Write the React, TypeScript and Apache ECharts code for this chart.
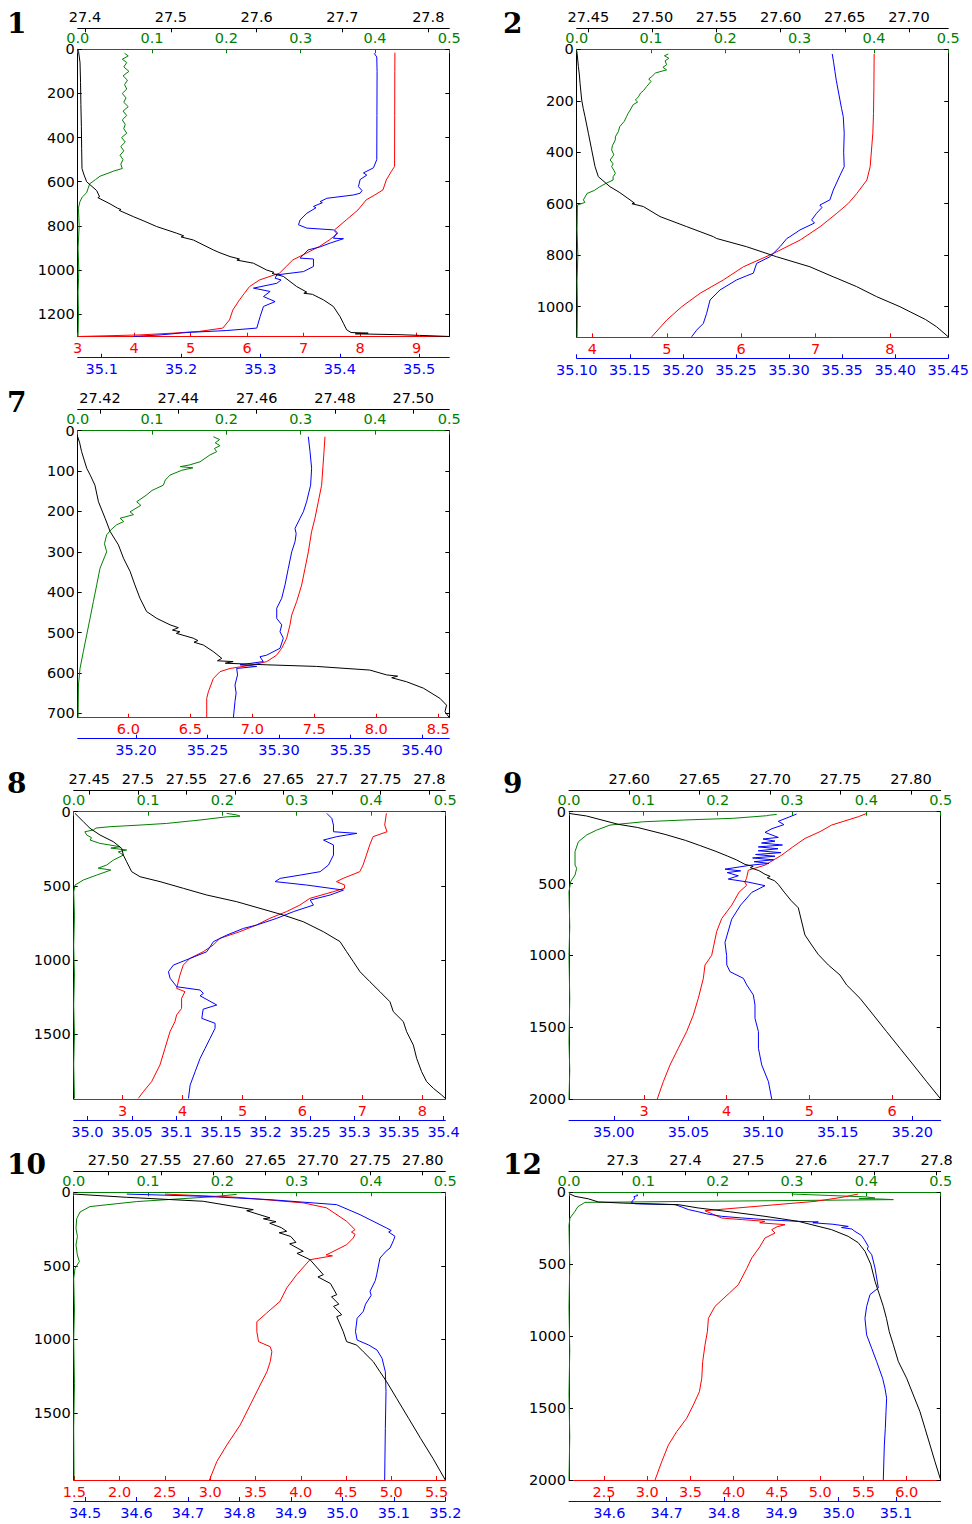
import { useEffect, useRef } from "react";
import * as echarts from "echarts";

type P = [number, number][];

// ---------------- Panel 1 ----------------
const p1Sigma: P = [[27.3915,0],[27.3925,10],[27.3942,60],[27.3948,150],[27.3952,250],[27.3958,350],[27.3961,450],[27.3965,540],[27.3985,565],[27.4019,600],[27.4136,640],[27.4170,668],[27.4150,672],[27.4291,700],[27.4380,720],[27.4420,726],[27.4400,730],[27.4563,758],[27.4700,780],[27.4835,803],[27.5068,833],[27.5150,845],[27.5120,850],[27.5263,864],[27.5496,909],[27.5560,920],[27.5690,939],[27.5800,950],[27.5770,955],[27.5962,969],[27.6117,1000],[27.6200,1010],[27.6180,1015],[27.6312,1029],[27.6467,1075],[27.6584,1100],[27.6550,1105],[27.6650,1110],[27.6778,1135],[27.6894,1165],[27.6972,1211],[27.7011,1241],[27.7050,1271],[27.7100,1283],[27.7300,1286],[27.7150,1289],[27.7671,1293],[27.7900,1296],[27.8246,1301]];
const p1Chl: P = [[0.063,18],[0.068,30],[0.060,45],[0.066,60],[0.062,80],[0.069,100],[0.061,120],[0.067,140],[0.063,160],[0.066,180],[0.060,200],[0.065,220],[0.062,240],[0.068,260],[0.061,280],[0.066,300],[0.060,320],[0.064,340],[0.062,360],[0.066,380],[0.059,400],[0.064,420],[0.058,440],[0.062,460],[0.057,480],[0.061,500],[0.058,520],[0.060,540],[0.048,552],[0.042,560],[0.030,575],[0.024,590],[0.016,610],[0.014,630],[0.012,650],[0.006,670],[0.003,690],[0.001,720],[0.002,800],[0.0005,900],[0.0015,1000],[0.0005,1100],[0.001,1200],[0.0005,1301]];
const p1Temp: P = [[8.617,15],[8.615,100],[8.613,300],[8.611,531],[8.552,554],[8.464,592],[8.405,637],[8.260,660],[8.109,682],[7.962,728],[7.755,773],[7.548,818],[7.607,833],[7.46,863],[7.282,893],[7.046,924],[6.81,954],[6.692,984],[6.574,1014],[6.219,1045],[6.042,1075],[5.953,1105],[5.865,1135],[5.747,1181],[5.688,1226],[5.569,1263],[5.156,1278],[4.683,1286],[4.093,1294],[3.03,1301]];
const p1Sal: P = [[35.4433,18],[35.4466,35],[35.4470,100],[35.4468,300],[35.4466,500],[35.4424,537],[35.4298,560],[35.4340,570],[35.4256,590],[35.4235,622],[35.4280,640],[35.4256,652],[35.4172,660],[35.3836,675],[35.3752,690],[35.3780,695],[35.3668,712],[35.3700,718],[35.3584,743],[35.3500,773],[35.3479,795],[35.3584,810],[35.3920,818],[35.3962,833],[35.3920,856],[35.4046,858],[35.3878,878],[35.3752,895],[35.3600,909],[35.3500,946],[35.3668,950],[35.3668,984],[35.3542,1007],[35.3206,1022],[35.3185,1037],[35.3260,1045],[35.3206,1060],[35.2912,1082],[35.3122,1097],[35.3038,1120],[35.3185,1143],[35.3038,1165],[35.2996,1211],[35.2954,1263],[35.2576,1274],[35.2071,1283],[35.1735,1294],[35.1400,1301]];
const p1SigmaTicks = [27.4, 27.5, 27.6, 27.7, 27.8];
const p1TempTicks = [3, 4, 5, 6, 7, 8, 9];
const p1SalTicks = [35.1, 35.2, 35.3, 35.4, 35.5];
const p1DepthTicks = [0, 200, 400, 600, 800, 1000, 1200];

// ---------------- Panel 2 ----------------
const p2Sigma: P = [[27.4409,5],[27.4415,30],[27.4422,67],[27.4430,100],[27.4435,132],[27.4448,197],[27.4460,230],[27.4474,262],[27.4500,326],[27.4526,391],[27.4552,456],[27.4578,495],[27.4669,534],[27.4740,555],[27.4825,585],[27.4860,598],[27.4840,600],[27.4929,611],[27.5059,650],[27.5267,689],[27.5475,728],[27.5500,735],[27.5734,767],[27.5968,806],[27.6228,845],[27.6410,884],[27.6440,890],[27.6592,922],[27.6748,961],[27.6930,1000],[27.7010,1020],[27.7086,1039],[27.7130,1050],[27.7216,1078],[27.7307,1117]];
const p2Chl: P = [[0.1233,18],[0.118,25],[0.124,35],[0.119,45],[0.121,60],[0.116,70],[0.121,80],[0.112,87],[0.106,92],[0.101,106],[0.097,115],[0.100,125],[0.094,145],[0.090,160],[0.086,170],[0.083,185],[0.079,197],[0.082,205],[0.076,215],[0.072,236],[0.069,250],[0.067,262],[0.064,280],[0.058,300],[0.056,320],[0.052,340],[0.052,352],[0.048,375],[0.047,391],[0.050,410],[0.045,430],[0.049,445],[0.047,456],[0.050,470],[0.052,482],[0.049,495],[0.049,508],[0.040,520],[0.031,534],[0.024,548],[0.014,560],[0.009,585],[0.011,595],[0.001,605],[0.0005,700],[0.0015,800],[0.0005,900],[0.001,1000],[0.0005,1117]];
const p2Temp: P = [[7.789,18],[7.785,150],[7.78,250],[7.771,326],[7.735,456],[7.691,508],[7.556,560],[7.444,598],[7.287,637],[7.063,689],[6.794,741],[6.435,793],[6.031,845],[5.762,896],[5.448,948],[5.202,1000],[5.0,1052],[4.798,1117]];
const p2Sal: P = [[35.3407,18],[35.342,50],[35.3433,87],[35.3445,120],[35.348,197],[35.3495,230],[35.3511,262],[35.352,326],[35.3515,400],[35.352,456],[35.348,490],[35.3417,547],[35.3385,585],[35.3291,605],[35.331,615],[35.326,637],[35.3213,663],[35.3240,675],[35.3103,702],[35.3009,728],[35.2980,735],[35.2915,767],[35.282,806],[35.2695,832],[35.2664,870],[35.2600,880],[35.2507,896],[35.235,935],[35.2256,974],[35.2224,1026],[35.2193,1065],[35.213,1091],[35.2083,1117]];
const p2SigmaTicks = [27.45, 27.5, 27.55, 27.6, 27.65, 27.7];
const p2TempTicks = [4, 5, 6, 7, 8];
const p2SalTicks = [35.1, 35.15, 35.2, 35.25, 35.3, 35.35, 35.4, 35.45];
const p2DepthTicks = [0, 200, 400, 600, 800, 1000];

// ---------------- Panel 7 ----------------
const p7Sigma: P = [[27.4143,15],[27.4148,30],[27.4153,52],[27.4166,93],[27.4175,110],[27.4187,135],[27.4196,176],[27.4213,217],[27.4226,250],[27.4247,283],[27.4260,316],[27.4277,349],[27.4289,382],[27.4302,415],[27.4319,448],[27.4345,465],[27.4379,481],[27.4400,488],[27.4385,494],[27.4404,498],[27.4395,502],[27.4438,514],[27.4450,520],[27.4440,524],[27.4464,531],[27.4489,547],[27.4511,564],[27.4500,570],[27.4540,572],[27.4520,576],[27.4626,580],[27.4753,584],[27.4889,593],[27.4932,605],[27.4960,608],[27.4945,612],[27.4983,622],[27.5026,638],[27.5068,663],[27.5085,680],[27.5081,696],[27.5092,711]];
const p7Chl: P = [[0.1825,15],[0.191,22],[0.185,30],[0.1915,37],[0.184,44],[0.187,52],[0.178,60],[0.1646,77],[0.150,85],[0.138,89],[0.155,92],[0.140,98],[0.1242,110],[0.118,122],[0.1152,135],[0.100,148],[0.0928,159],[0.0794,176],[0.085,185],[0.0704,201],[0.075,208],[0.057,217],[0.062,225],[0.0525,233],[0.045,245],[0.039,258],[0.036,280],[0.039,300],[0.030,341],[0.0256,382],[0.0211,423],[0.0166,465],[0.0121,506],[0.0076,547],[0.0031,589],[0.001,630],[0.0005,711]];
const p7Temp: P = [[7.586,15],[7.578,52],[7.559,135],[7.532,176],[7.505,217],[7.478,250],[7.452,300],[7.425,341],[7.398,382],[7.358,423],[7.317,457],[7.304,481],[7.277,514],[7.237,539],[7.196,556],[7.116,572],[7.008,580],[6.82,589],[6.739,597],[6.685,614],[6.645,647],[6.632,663],[6.632,711]];
const p7Sal: P = [[35.3205,15],[35.3217,52],[35.3228,93],[35.3221,135],[35.3193,176],[35.317,201],[35.3147,217],[35.3112,242],[35.312,255],[35.3112,275],[35.3089,300],[35.3065,341],[35.3042,382],[35.3019,415],[35.2984,440],[35.2984,465],[35.3019,481],[35.3007,498],[35.303,514],[35.3007,539],[35.2914,556],[35.2867,560],[35.2890,572],[35.2727,580],[35.2844,584],[35.2704,589],[35.2710,605],[35.2692,630],[35.2700,650],[35.2692,671],[35.2681,711]];
const p7SigmaTicks = [27.42, 27.44, 27.46, 27.48, 27.5];
const p7TempTicks = [6.0, 6.5, 7.0, 7.5, 8.0, 8.5];
const p7SalTicks = [35.2, 35.25, 35.3, 35.35, 35.4];
const p7DepthTicks = [0, 100, 200, 300, 400, 500, 600, 700];

// ---------------- Panel 8 ----------------
const p8Sigma: P = [[27.4352,11],[27.4438,67],[27.4507,112],[27.4610,157],[27.4747,202],[27.4833,247],[27.4850,292],[27.4884,337],[27.4936,404],[27.5022,438],[27.5228,471],[27.5468,516],[27.5708,561],[27.6017,606],[27.6257,651],[27.6497,696],[27.6703,741],[27.6909,808],[27.7081,875],[27.7149,943],[27.7218,1010],[27.7287,1078],[27.7389,1145],[27.7492,1212],[27.7595,1280],[27.7630,1347],[27.7733,1414],[27.7767,1482],[27.7836,1572],[27.7870,1661],[27.7921,1751],[27.7973,1818],[27.8042,1863],[27.8127,1908],[27.8165,1931]];
const p8Chl: P = [[0.2058,11],[0.2193,22],[0.2238,30],[0.205,35],[0.17,56],[0.125,79],[0.0892,90],[0.0489,101],[0.030,110],[0.0265,123],[0.015,135],[0.0175,157],[0.024,175],[0.022,191],[0.035,213],[0.0623,236],[0.050,245],[0.0713,258],[0.060,270],[0.0668,292],[0.0534,326],[0.0444,359],[0.0330,380],[0.0500,393],[0.0309,427],[0.0130,460],[0.0018,494],[0.0,539],[0.001,700],[0.0,900],[0.001,1100],[0.0,1300],[0.001,1500],[0.0,1700],[0.001,1931]];
const p8Temp: P = [[7.4,11],[7.372,90],[7.411,135],[7.178,168],[7.122,224],[7.067,292],[7.011,359],[6.956,404],[6.678,449],[6.567,471],[6.706,494],[6.700,516],[6.511,539],[6.122,584],[5.956,629],[5.733,673],[5.456,718],[5.233,763],[4.956,808],[4.622,853],[4.511,898],[4.344,943],[4.122,988],[4.011,1033],[3.956,1100],[3.9,1190],[4.039,1212],[3.983,1257],[3.983,1325],[3.9,1369],[3.872,1414],[3.789,1482],[3.706,1594],[3.622,1706],[3.483,1818],[3.344,1886],[3.261,1931]];
const p8Sal: P = [[35.2689,11],[35.2745,45],[35.2764,90],[35.2764,135],[35.3026,146],[35.2801,168],[35.2652,191],[35.2764,224],[35.2764,292],[35.2708,359],[35.2614,404],[35.2390,427],[35.2165,449],[35.2109,471],[35.2464,494],[35.2876,528],[35.2727,561],[35.2502,595],[35.2539,629],[35.2315,673],[35.2127,718],[35.1903,763],[35.1753,786],[35.1566,831],[35.1416,875],[35.1341,943],[35.1154,988],[35.0966,1033],[35.0910,1078],[35.0929,1122],[35.1004,1179],[35.1266,1201],[35.1303,1224],[35.1266,1240],[35.1453,1302],[35.1300,1330],[35.1285,1392],[35.1434,1425],[35.1434,1459],[35.1378,1526],[35.1322,1594],[35.1266,1661],[35.1210,1751],[35.1154,1841],[35.1135,1931]];
const p8SigmaTicks = [27.45, 27.5, 27.55, 27.6, 27.65, 27.7, 27.75, 27.8];
const p8TempTicks = [3, 4, 5, 6, 7, 8];
const p8SalTicks = [35.0, 35.05, 35.1, 35.15, 35.2, 35.25, 35.3, 35.35, 35.4];
const p8DepthTicks = [0, 500, 1000, 1500];

// ---------------- Panel 9 ----------------
const p9Sigma: P = [[27.5572,12],[27.5697,30],[27.5922,88],[27.6060,110],[27.6254,158],[27.6400,200],[27.6500,235],[27.6609,274],[27.6700,310],[27.6760,335],[27.6822,367],[27.6880,380],[27.6860,390],[27.6920,410],[27.6964,436],[27.7000,450],[27.6980,460],[27.7030,480],[27.7058,506],[27.7100,560],[27.7150,620],[27.7200,669],[27.7247,858],[27.7295,928],[27.7342,994],[27.7413,1067],[27.7496,1137],[27.7543,1206],[27.7638,1299],[27.7733,1415],[27.7827,1531],[27.7922,1647],[27.8017,1763],[27.8111,1879],[27.8211,2000]];
const p9Chl: P = [[0.2794,19],[0.27,24],[0.2659,28],[0.2211,46],[0.1538,58],[0.1,70],[0.0552,93],[0.0372,128],[0.0238,162],[0.0126,209],[0.0081,278],[0.0081,371],[0.0103,394],[0.0081,441],[0.0022,487],[0.0,557],[0.001,800],[0.0,1000],[0.001,1300],[0.0,1600],[0.001,1800],[0.0,2000]];
const p9Temp: P = [[5.694,12],[5.592,35],[5.27,93],[5.129,139],[4.948,186],[4.80,245],[4.666,302],[4.464,372],[4.262,407],[4.24,465],[4.22,490],[4.242,512],[4.15,560],[4.061,651],[3.94,744],[3.879,835],[3.819,1000],[3.738,1067],[3.718,1160],[3.657,1299],[3.597,1415],[3.516,1531],[3.415,1647],[3.315,1763],[3.234,1879],[3.161,2000]];
const p9Sal: P = [[35.1225,16],[35.1180,35],[35.1102,67],[35.1140,90],[35.1060,118],[35.1013,144],[35.1102,179],[35.1000,190],[35.1080,205],[35.0990,218],[35.1130,232],[35.0968,245],[35.1100,258],[35.0968,272],[35.1120,285],[35.0950,298],[35.1080,310],[35.0930,322],[35.1070,335],[35.0940,348],[35.1040,360],[35.0920,372],[35.0745,400],[35.0850,412],[35.0760,424],[35.0834,446],[35.0767,469],[35.0900,490],[35.1013,515],[35.0924,562],[35.0850,650],[35.0790,748],[35.0745,910],[35.0756,1002],[35.0757,1067],[35.0779,1114],[35.0868,1160],[35.0891,1206],[35.0935,1276],[35.0946,1346],[35.0946,1439],[35.0969,1531],[35.0969,1647],[35.0991,1763],[35.1036,1879],[35.1058,2000]];
const p9SigmaTicks = [27.6, 27.65, 27.7, 27.75, 27.8];
const p9TempTicks = [3, 4, 5, 6];
const p9SalTicks = [35.0, 35.05, 35.1, 35.15, 35.2];
const p9DepthTicks = [0, 500, 1000, 1500, 2000];

// ---------------- Panel 10 ----------------
const p10Sigma: P = [[27.4669,12],[27.5175,34],[27.5906,61],[27.6383,118],[27.6320,125],[27.6543,174],[27.6480,180],[27.6600,200],[27.6540,210],[27.6650,240],[27.6702,265],[27.6630,275],[27.6740,300],[27.6790,340],[27.6730,350],[27.6860,401],[27.6800,415],[27.6925,458],[27.7052,560],[27.7000,575],[27.7120,620],[27.7180,696],[27.7130,710],[27.7200,760],[27.7150,775],[27.7227,832],[27.7180,845],[27.7242,947],[27.7274,1015],[27.7370,1038],[27.7433,1083],[27.7529,1151],[27.7592,1219],[27.7656,1287],[27.7751,1400],[27.7866,1536],[27.7980,1672],[27.8098,1808],[27.8216,1955]];
const p10Chl: P = [[0.2193,14],[0.1878,30],[0.0848,63],[0.0219,97],[0.0085,134],[0.004,180],[0.0031,245],[0.005,300],[0.0031,358],[0.0049,426],[0.0076,471],[0.0018,517],[0.0,585],[0.001,800],[0.0,1000],[0.001,1300],[0.0,1600],[0.0005,1955]];
const p10Temp: P = [[2.501,12],[3.293,34],[4.028,72],[4.286,106],[4.507,197],[4.599,254],[4.56,270],[4.60,285],[4.58,311],[4.507,356],[4.323,413],[4.28,425],[4.35,432],[4.102,458],[3.955,560],[3.845,650],[3.771,741],[3.624,820],[3.515,879],[3.515,947],[3.534,1015],[3.663,1049],[3.681,1083],[3.663,1151],[3.627,1219],[3.552,1309],[3.442,1445],[3.331,1581],[3.184,1717],[3.073,1830],[2.992,1955]];
const p10Sal: P = [[34.581,12],[34.7298,27],[34.8594,50],[34.989,84],[35.0343,152],[35.0537,186],[35.0862,243],[35.0950,260],[35.0900,270],[35.1023,299],[35.0990,330],[35.0926,379],[35.0850,400],[35.0800,420],[35.0731,447],[35.0667,560],[35.0640,600],[35.0537,673],[35.0560,700],[35.0450,760],[35.0407,809],[35.0287,856],[35.0255,947],[35.0287,1004],[35.0513,1038],[35.0674,1072],[35.0771,1128],[35.0835,1219],[35.0848,1355],[35.0835,1604],[35.0822,1955]];
const p10SigmaTicks = [27.5, 27.55, 27.6, 27.65, 27.7, 27.75, 27.8];
const p10TempTicks = [1.5, 2.0, 2.5, 3.0, 3.5, 4.0, 4.5, 5.0, 5.5];
const p10SalTicks = [34.5, 34.6, 34.7, 34.8, 34.9, 35.0, 35.1, 35.2];
const p10DepthTicks = [0, 500, 1000, 1500];

// ---------------- Panel 12 ----------------
const p12Sigma: P = [[27.2161,12],[27.224,28],[27.245,45],[27.2612,67],[27.30,75],[27.3886,86],[27.4204,109],[27.47,135],[27.5266,167],[27.5797,202],[27.6328,260],[27.659,306],[27.675,350],[27.6858,410],[27.695,500],[27.7018,619],[27.7080,700],[27.715,793],[27.7200,876],[27.7245,969],[27.7310,1060],[27.7390,1177],[27.7522,1293],[27.7628,1409],[27.7734,1525],[27.7814,1641],[27.7894,1757],[27.7973,1873],[27.8064,2000]];
const p12Chl: P = [[0.2995,12],[0.35,22],[0.40,32],[0.4116,40],[0.39,44],[0.42,47],[0.4363,51],[0.0215,70],[0.012,100],[0.008,133],[0.0013,179],[0.0,230],[0.001,500],[0.0,800],[0.001,1100],[0.0,1400],[0.001,1700],[0.0,2000]];
const p12Temp: P = [[5.44,12],[5.25,35],[4.94,63],[3.667,128],[3.861,179],[4.10,190],[4.361,202],[4.30,212],[4.593,225],[4.50,240],[4.439,260],[4.477,283],[4.361,318],[4.30,380],[4.208,457],[4.15,530],[4.053,642],[3.95,700],[3.783,793],[3.707,876],[3.695,969],[3.668,1060],[3.641,1177],[3.63,1293],[3.603,1386],[3.533,1478],[3.456,1571],[3.34,1664],[3.244,1757],[3.167,1873],[3.09,2000]];
const p12Sal: P = [[34.6478,16],[34.6500,22],[34.6430,30],[34.6445,45],[34.6400,60],[34.639,74],[34.6460,80],[34.7146,86],[34.7250,100],[34.7378,120],[34.7550,135],[34.7700,150],[34.7960,167],[34.8300,178],[34.8716,190],[34.9000,196],[34.9296,202],[34.9645,206],[34.9550,212],[34.9900,222],[35.0168,237],[35.0050,245],[35.0230,255],[35.0285,272],[35.0400,300],[35.0450,330],[35.0517,376],[35.0500,395],[35.0577,434],[35.0634,526],[35.0692,665],[35.0547,711],[35.0489,793],[35.0459,876],[35.0488,991],[35.0576,1084],[35.0663,1177],[35.0767,1293],[35.0808,1362],[35.0837,1432],[35.0826,1525],[35.0814,1641],[35.0797,1757],[35.0779,2000]];
const p12SigmaTicks = [27.3, 27.4, 27.5, 27.6, 27.7, 27.8];
const p12TempTicks = [2.5, 3.0, 3.5, 4.0, 4.5, 5.0, 5.5, 6.0];
const p12SalTicks = [34.6, 34.7, 34.8, 34.9, 35.0, 35.1];
const p12DepthTicks = [0, 500, 1000, 1500, 2000];

const chlTicks = [0, 0.1, 0.2, 0.3, 0.4, 0.5];

// ---------------- layout / styling ----------------
const BLACK = "#000000";
const GREEN = "#008000";
const RED = "#ff0000";
const BLUE = "#0000ff";
const FONT = "DejaVu Sans";
const FS = 14.5;

type AxisSpec = { min: number; max: number; ticks: number[]; dec: number; trim?: boolean };
type PanelSpec = {
  name: string;
  nx: number;
  ny: number;
  grid: { left: number; top: number; width: number; height: number };
  depthMax: number;
  depthTicks: number[];
  sigma: AxisSpec;
  temp: AxisSpec;
  sal: AxisSpec;
  lines: { sigma: P; chl: P; temp: P; sal: P };
};

const panels: PanelSpec[] = [
  { name: "1", nx: 7, ny: 9, grid: { left: 77.7, top: 49.3, width: 371.6, height: 287.4 }, depthMax: 1302, depthTicks: p1DepthTicks,
    sigma: { min: 27.3915, max: 27.8245, ticks: p1SigmaTicks, dec: 1 }, temp: { min: 3, max: 9.58, ticks: p1TempTicks, dec: 0 }, sal: { min: 35.0697, max: 35.538, ticks: p1SalTicks, dec: 1 },
    lines: { sigma: p1Sigma, chl: p1Chl, temp: p1Temp, sal: p1Sal } },
  { name: "2", nx: 503, ny: 9, grid: { left: 576.7, top: 49.3, width: 371.6, height: 288 }, depthMax: 1119, depthTicks: p2DepthTicks,
    sigma: { min: 27.4409, max: 27.7307, ticks: p2SigmaTicks, dec: 2 }, temp: { min: 3.789, max: 8.785, ticks: p2TempTicks, dec: 0 }, sal: { min: 35.1, max: 35.45, ticks: p2SalTicks, dec: 2 },
    lines: { sigma: p2Sigma, chl: p2Chl, temp: p2Temp, sal: p2Sal } },
  { name: "7", nx: 7, ny: 388, grid: { left: 77.7, top: 430.7, width: 371.6, height: 287 }, depthMax: 711, depthTicks: p7DepthTicks,
    sigma: { min: 27.4143, max: 27.5092, ticks: p7SigmaTicks, dec: 2 }, temp: { min: 5.591, max: 8.589, ticks: p7TempTicks, dec: 1 }, sal: { min: 35.1592, max: 35.4191, ticks: p7SalTicks, dec: 2 },
    lines: { sigma: p7Sigma, chl: p7Chl, temp: p7Temp, sal: p7Sal } },
  { name: "8", nx: 7, ny: 769, grid: { left: 73.7, top: 811.7, width: 371.6, height: 287.3 }, depthMax: 1935, depthTicks: p8DepthTicks,
    sigma: { min: 27.4339, max: 27.8165, ticks: p8SigmaTicks, dec: 2, trim: true }, temp: { min: 2.183, max: 8.383, ticks: p8TempTicks, dec: 0 }, sal: { min: 34.9846, max: 35.402, ticks: p8SalTicks, dec: 2, trim: true },
    lines: { sigma: p8Sigma, chl: p8Chl, temp: p8Temp, sal: p8Sal } },
  { name: "9", nx: 503, ny: 769, grid: { left: 569, top: 811.7, width: 371.7, height: 287.3 }, depthMax: 2000, depthTicks: p9DepthTicks,
    sigma: { min: 27.5572, max: 27.8211, ticks: p9SigmaTicks, dec: 2 }, temp: { min: 2.093, max: 6.589, ticks: p9TempTicks, dec: 0 }, sal: { min: 34.97, max: 35.219, ticks: p9SalTicks, dec: 2 },
    lines: { sigma: p9Sigma, chl: p9Chl, temp: p9Temp, sal: p9Sal } },
  { name: "10", nx: 7, ny: 1150, grid: { left: 73.7, top: 1192.3, width: 371.6, height: 287.7 }, depthMax: 1955, depthTicks: p10DepthTicks,
    sigma: { min: 27.4669, max: 27.8216, ticks: p10SigmaTicks, dec: 2 }, temp: { min: 1.493, max: 5.596, ticks: p10TempTicks, dec: 1 }, sal: { min: 34.478, max: 35.2, ticks: p10SalTicks, dec: 1 },
    lines: { sigma: p10Sigma, chl: p10Chl, temp: p10Temp, sal: p10Sal } },
  { name: "12", nx: 503, ny: 1150, grid: { left: 569, top: 1192.3, width: 371.7, height: 287.7 }, depthMax: 2000, depthTicks: p12DepthTicks,
    sigma: { min: 27.2145, max: 27.8064, ticks: p12SigmaTicks, dec: 1 }, temp: { min: 2.095, max: 6.393, ticks: p12TempTicks, dec: 1 }, sal: { min: 34.5297, max: 35.178, ticks: p12SalTicks, dec: 1 },
    lines: { sigma: p12Sigma, chl: p12Chl, temp: p12Temp, sal: p12Sal } },
];

function fmt(dec: number, trim?: boolean) {
  return (v: number) => {
    let s = v.toFixed(dec);
    if (trim && dec === 2 && s.endsWith("0")) s = s.slice(0, -1);
    return s;
  };
}

function xAxisDef(gi: number, spec: AxisSpec, color: string, position: "top" | "bottom", offset: number) {
  return {
    type: "value",
    gridIndex: gi,
    position,
    offset,
    min: spec.min,
    max: spec.max,
    axisLine: { show: true, onZero: false, lineStyle: { color, width: 1 } },
    axisTick: { show: true, inside: true, length: 4, lineStyle: { color, width: 1 }, customValues: spec.ticks },
    axisLabel: {
      show: true,
      color,
      fontSize: FS,
      fontFamily: FONT,
      margin: 4,
      customValues: spec.ticks,
      formatter: fmt(spec.dec, spec.trim),
      hideOverlap: false,
    },
    splitLine: { show: false },
  };
}

export default function App() {
  const ref = useRef<HTMLDivElement>(null);
  useEffect(() => {
    document.body.style.margin = "0";
    if (!ref.current) return;
    const chart = echarts.init(ref.current, undefined, { renderer: "svg" });
    const grids: any[] = [];
    const xAxes: any[] = [];
    const yAxes: any[] = [];
    const series: any[] = [];
    const graphics: any[] = [];
    panels.forEach((p, i) => {
      grids.push({ ...p.grid, containLabel: false, show: false });
      xAxes.push(xAxisDef(i, p.sigma, BLACK, "top", 21));
      xAxes.push(xAxisDef(i, { min: 0, max: 0.5, ticks: chlTicks, dec: 1 }, GREEN, "top", 0));
      xAxes.push(xAxisDef(i, p.temp, RED, "bottom", 0));
      xAxes.push(xAxisDef(i, p.sal, BLUE, "bottom", 21));
      yAxes.push({
        type: "value",
        gridIndex: i,
        position: "left",
        inverse: true,
        min: 0,
        max: p.depthMax,
        axisLine: { show: true, onZero: false, lineStyle: { color: BLACK, width: 1 } },
        axisTick: { show: true, inside: true, length: 4, lineStyle: { color: BLACK }, customValues: p.depthTicks },
        axisLabel: { show: true, color: BLACK, fontSize: FS, fontFamily: FONT, margin: 3, customValues: p.depthTicks, formatter: (v: number) => String(Math.round(v)) },
        splitLine: { show: false },
      });
      yAxes.push({
        type: "value",
        gridIndex: i,
        position: "right",
        inverse: true,
        min: 0,
        max: p.depthMax,
        axisLine: { show: true, onZero: false, lineStyle: { color: BLACK, width: 1 } },
        axisTick: { show: true, inside: true, length: 4, lineStyle: { color: BLACK }, customValues: p.depthTicks },
        axisLabel: { show: false },
        splitLine: { show: false },
      });
      const mk = (data: P, xi: number, color: string) => ({
        type: "line",
        xAxisIndex: 4 * i + xi,
        yAxisIndex: 2 * i,
        data,
        showSymbol: false,
        symbol: "none",
        clip: true,
        silent: true,
        lineStyle: { color, width: 1 },
      });
      series.push(mk(p.lines.chl, 1, GREEN));
      series.push(mk(p.lines.temp, 2, RED));
      series.push(mk(p.lines.sal, 3, BLUE));
      series.push(mk(p.lines.sigma, 0, BLACK));
      graphics.push({
        type: "text",
        x: p.nx,
        y: p.ny,
        style: { text: p.name, fontFamily: "DejaVu Serif", fontWeight: "bold", fontSize: 28, fill: "#000", verticalAlign: "top" },
      });
    });
    chart.setOption({
      animation: false,
      backgroundColor: "#ffffff",
      grid: grids,
      xAxis: xAxes,
      yAxis: yAxes,
      series,
      graphic: graphics,
    });
    return () => chart.dispose();
  }, []);
  return <div ref={ref} style={{ width: 972, height: 1524 }} />;
}
